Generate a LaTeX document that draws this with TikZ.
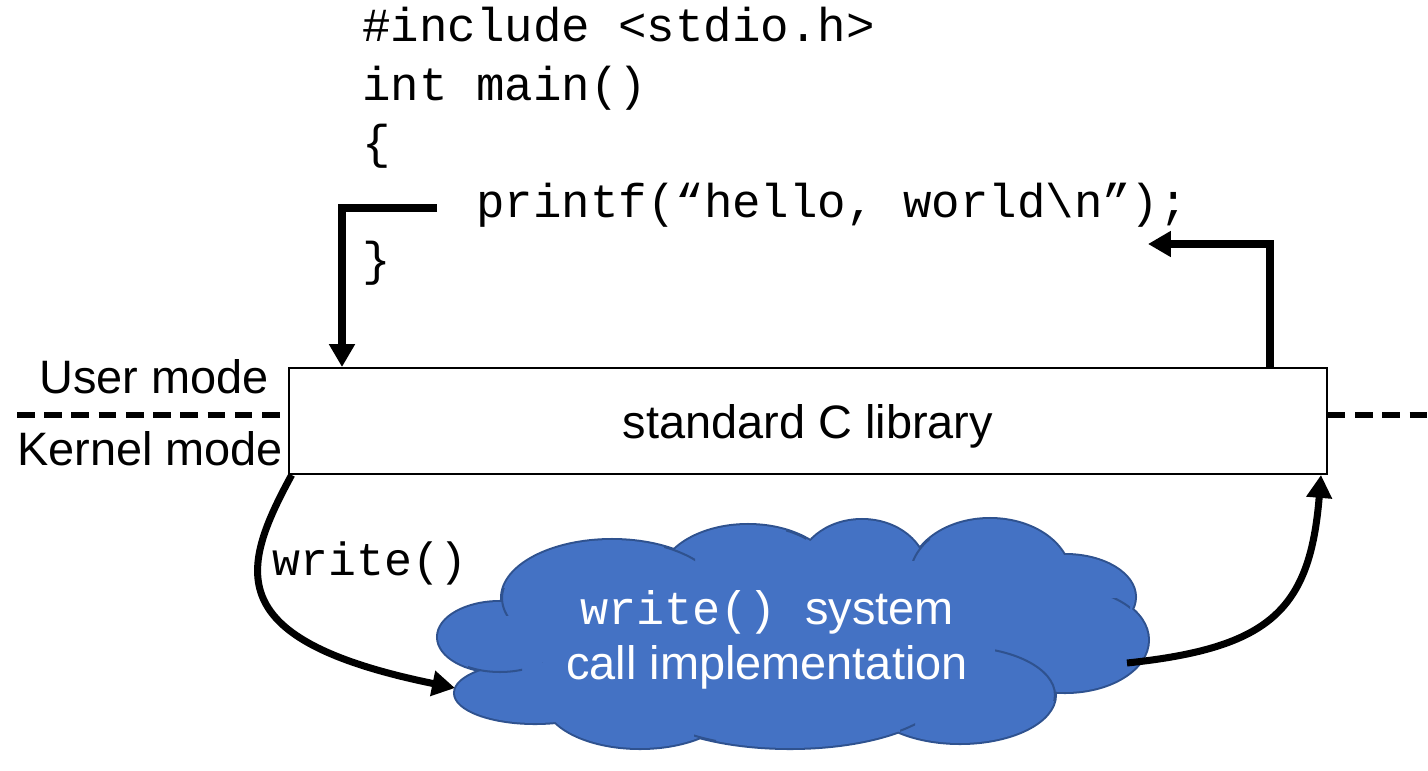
\documentclass[tikz,border=0pt]{standalone}
\usepackage{fontspec}
\setmainfont{Liberation Sans}
\setsansfont{Liberation Sans}
\setmonofont{Liberation Mono}
\usetikzlibrary{arrows.meta}
\definecolor{cloudfill}{RGB}{68,114,196}
\definecolor{cloudedge}{RGB}{47,82,143}
\begin{document}
\begin{tikzpicture}[x=0.02cm,y=-0.02cm,
  big/.style={font=\fontsize{26.7}{31}\selectfont, inner sep=0},
  code/.style={font=\ttfamily\fontsize{27}{32}\selectfont, anchor=base west, inner sep=0},
  flow/.style={line width=4pt, -{Triangle[length=13pt,width=14pt]}},
  dashline/.style={line width=3.2pt, dash pattern=on 10pt off 5.5pt},
  lib/.style={draw, line width=1.1pt, fill=white, minimum width=20.76cm, minimum height=2.12cm, inner sep=0},
  inarc/.style={draw=cloudedge, line width=1.15pt}
]
\useasboundingbox (0,0) rectangle (1428,771);

% code lines
\node[code] (c1) at (362,41) {\#include <stdio.h>};
\node[code] (c2) at (362,100) {int main()};
\node[code] (c3) at (362,158) {\{};
\node[code] (c4) at (476,217) {printf(“hello, world\textbackslash n”);};
\node[code] (c5) at (362,275) {\}};

% dashed mode separator
\coordinate (dl) at (17,415);
\coordinate (dr) at (1428,415);

% library box
\node[lib, big] (lib) at (808,421) {};
\node[big, anchor=base] (libt) at (808,438) {standard C library};

\draw[dashline] (dl) -- (lib.west |- dl);
\draw[dashline] (lib.east |- dr) -- (dr);

\node[big, anchor=base] (um) at (154,393) {User mode};
\node[big, anchor=base] (km) at (150,465) {Kernel mode};

% cloud (union of ellipses)
\def\cloudshape{
  (500,637) ellipse [x radius=1.24cm, y radius=0.70cm]
  (535,693) ellipse [x radius=1.60cm, y radius=0.60cm]
  (612,598) ellipse [x radius=2.20cm, y radius=1.16cm]
  (748,580) ellipse [x radius=1.76cm, y radius=1.10cm]
  (862,572) ellipse [x radius=1.28cm, y radius=1.04cm]
  (990,577) ellipse [x radius=1.60cm, y radius=1.16cm]
  (1065,597) ellipse [x radius=1.40cm, y radius=0.84cm]
  (1065,640) ellipse [x radius=1.66cm, y radius=1.04cm]
  (960,695) ellipse [x radius=1.90cm, y radius=0.96cm]
  (790,690) ellipse [x radius=3.10cm, y radius=1.16cm]
  (640,700) ellipse [x radius=1.90cm, y radius=0.96cm]
  (790,635) ellipse [x radius=5.20cm, y radius=1.80cm]}
\draw[cloudedge, line width=2.3pt] \cloudshape;
\fill[cloudfill] \cloudshape;
% inner arcs of the cloud
\begin{scope}
  \clip (498,588) rectangle (512,615);
  \path[inarc] (612,598) ellipse [x radius=2.20cm, y radius=1.16cm];
\end{scope}
\begin{scope}
  \clip (468,655) rectangle (522,680);
  \path[inarc] (500,637) ellipse [x radius=1.24cm, y radius=0.70cm];
\end{scope}
\begin{scope}
  \clip (664,540) rectangle (695,562);
  \path[inarc] (612,598) ellipse [x radius=2.20cm, y radius=1.16cm];
\end{scope}
\begin{scope}
  \clip (786,525) rectangle (806,548);
  \path[inarc] (748,580) ellipse [x radius=1.76cm, y radius=1.10cm];
\end{scope}
\begin{scope}
  \clip (910,528) rectangle (930,560);
  \path[inarc] (990,577) ellipse [x radius=1.60cm, y radius=1.16cm];
\end{scope}
\begin{scope}
  \clip (1092,598) rectangle (1130,628);
  \path[inarc] (1065,640) ellipse [x radius=1.66cm, y radius=1.04cm];
\end{scope}
\begin{scope}
  \clip (995,645) rectangle (1056,700);
  \path[inarc] (960,695) ellipse [x radius=1.90cm, y radius=0.96cm];
\end{scope}
\begin{scope}
  \clip (900,722) rectangle (915,745);
  \path[inarc] (790,690) ellipse [x radius=3.10cm, y radius=1.16cm];
\end{scope}
\begin{scope}
  \clip (694,730) rectangle (716,750);
  \path[inarc] (790,690) ellipse [x radius=3.10cm, y radius=1.16cm];
\end{scope}

\node[big, text=white, align=center] (clt) at (767,640)
  {{\ttfamily write()\ }system\\call implementation};

\node[code, font=\ttfamily\fontsize{26.5}{32}\selectfont] (wr) at (272,575) {write()};

% arrows
\coordinate (a1) at (437,208);
\coordinate (a1c) at (342,208);
\draw[flow] (a1) -- (a1c) -- (lib.north -| a1c);

\coordinate (a2c) at (1270,244);
\coordinate (a2) at (1148,244);
\draw[flow] (lib.north -| a2c) -- (a2c) -- (a2);

\coordinate (b1) at (455,688);
\draw[flow] ([xshift=2]lib.south west) .. controls (240,570) and (220,640) .. (b1);

\coordinate (b2) at (1127,663);
\coordinate (b2e) at (1321,475);
\draw[flow] (b2) .. controls (1270,648) and (1310,610) .. (b2e);
\end{tikzpicture}
\end{document}
